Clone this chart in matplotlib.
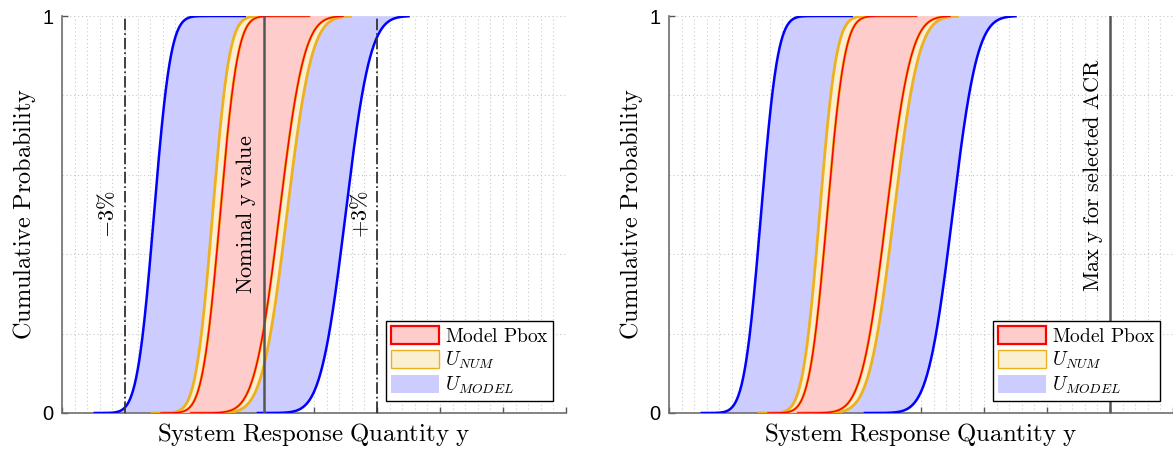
import math
import numpy as np
import matplotlib
matplotlib.use("Agg")
import matplotlib.pyplot as plt
from matplotlib.patches import Patch

plt.rcParams['mathtext.fontset'] = 'cm'
plt.rcParams['font.family'] = ['Liberation Sans', 'DejaVu Sans']

# CDF bounds, left to right: U_MODEL lower, U_NUM lower, p-box lower,
# p-box upper, U_NUM upper, U_MODEL upper
curve_mu = [1.46, 2.39, 2.51, 3.45, 3.57, 4.50]
curve_sd = [0.21, 0.21, 0.22, 0.31, 0.31, 0.31]
curve_start = [0.52, 1.41, 1.56, 2.03, 2.10, 3.11]
curve_end = [2.90, 3.86, 3.94, 4.47, 4.60, 5.50]

# reference lines
nominal_y = 3.2
minus_3pct = 1.0
plus_3pct = 5.0
max_y_acr = 7.0

x_limits = [0, 8]
legend_labels = [r'$\mathrm{Model\ Pbox}$', r'$U_{NUM}$', r'$U_{MODEL}$']

BLUE = '#0000FF'
BLUE_FILL = '#CCCCFF'
RED = '#FF0000'
RED_FILL = '#FFCCCC'
ORANGE = '#EDB120'
ORANGE_FILL = '#FBEFD2'

_erf = np.vectorize(math.erf)


def cdf_curve(i, n=400):
    x = np.linspace(curve_start[i], curve_end[i], n)
    p = 0.5 * (1.0 + _erf((x - curve_mu[i]) / (curve_sd[i] * math.sqrt(2))))
    return x, p


def band(ax, i_lo, i_hi, color, z):
    xl, pl = cdf_curve(i_lo)
    xr, pr = cdf_curve(i_hi)
    ax.fill(np.concatenate([xl, xr[::-1]]), np.concatenate([pl, pr[::-1]]),
            color=color, lw=0, zorder=z)


def draw_panel(ax):
    band(ax, 0, 5, BLUE_FILL, 1)
    band(ax, 1, 4, ORANGE_FILL, 2)
    band(ax, 2, 3, RED_FILL, 3)
    for i in (1, 2, 3, 4):
        x, p = cdf_curve(i)
        ax.plot(x, p, color=ORANGE, lw=2.0, zorder=4, solid_capstyle='butt')
    for i in (2, 3):
        x, p = cdf_curve(i)
        ax.plot(x, p, color=RED, lw=1.1, zorder=5, solid_capstyle='butt')
    for i in (0, 5):
        x, p = cdf_curve(i)
        ax.plot(x, p, color=BLUE, lw=1.8, zorder=6)

    ax.set_xlim(*x_limits)
    ax.set_ylim(0, 1)
    ax.set_xticks(np.arange(x_limits[0], x_limits[1] + 1, 1))
    ax.set_xticklabels([])
    ax.set_xticks(np.arange(x_limits[0], x_limits[1] + 0.01, 0.2), minor=True)
    ax.set_yticks([0, 1])
    ax.set_yticks(np.arange(0, 1.01, 0.2), minor=True)
    ax.tick_params(axis='both', which='major', direction='in', length=4,
                   width=1, color='#555555', labelsize=14.5, pad=6)
    ax.tick_params(axis='both', which='minor', length=0)
    ax.grid(True, which='both', color='#C8C8C8', lw=0.8, ls=(0, (1, 2.5)), zorder=0)
    ax.set_axisbelow(True)
    for side in ('top', 'right'):
        ax.spines[side].set_visible(False)
    for side in ('left', 'bottom'):
        ax.spines[side].set_color('#6E6E6E')
        ax.spines[side].set_linewidth(1.2)
    ax.set_xlabel(r'$\mathrm{System\ Response\ Quantity\ y}$', fontsize=17.9, labelpad=0)
    ax.set_ylabel(r'$\mathrm{Cumulative\ Probability}$', fontsize=17.5, labelpad=3)

    handles = [Patch(facecolor=RED_FILL, edgecolor=RED, lw=1.6),
               Patch(facecolor=ORANGE_FILL, edgecolor=ORANGE, lw=1.0),
               Patch(facecolor=BLUE_FILL, edgecolor='none')]
    leg = ax.legend(handles, legend_labels, loc='lower right',
                    bbox_to_anchor=(0.975, 0.03), fontsize=14, frameon=True,
                    fancybox=False, edgecolor='black', framealpha=1,
                    handlelength=2.45, handleheight=1.05, labelspacing=0.2,
                    handletextpad=0.3, borderpad=0.25, borderaxespad=0)
    leg.get_frame().set_linewidth(1.0)
    leg.set_zorder(10)


fig = plt.figure(figsize=(11.73, 4.5), dpi=100)
ax1 = fig.add_axes([62 / 1173, 37 / 450, 504 / 1173, 397 / 450])
ax2 = fig.add_axes([669 / 1173, 37 / 450, 504 / 1173, 397 / 450])

draw_panel(ax1)
draw_panel(ax2)

# left panel: nominal value and +/-3% limits
ax1.axvline(nominal_y, color='#555555', lw=1.8, zorder=7)
ax1.axvline(minus_3pct, color='#333333', lw=1.3, ls='-.', zorder=7)
ax1.axvline(plus_3pct, color='#333333', lw=1.3, ls='-.', zorder=7)
ax1.text(nominal_y - 0.09, 0.50, r'$\mathrm{Nominal\ y\ value}$', rotation=90,
         ha='right', va='center', fontsize=16, zorder=8)
ax1.text(minus_3pct - 0.09, 0.50, r'$-3\%$', rotation=90,
         ha='right', va='center', fontsize=16, zorder=8)
ax1.text(plus_3pct - 0.07, 0.50, r'$+3\%$', rotation=90,
         ha='right', va='center', fontsize=16, zorder=8)

# right panel: acceptance limit
ax2.axvline(max_y_acr, color='#555555', lw=1.8, zorder=7)
ax2.text(max_y_acr - 0.08, 0.598, r'$\mathrm{Max\ y\ for\ selected\ ACR}$', rotation=90,
         ha='right', va='center', fontsize=16, zorder=8)

fig.savefig('out.png', dpi=100)
